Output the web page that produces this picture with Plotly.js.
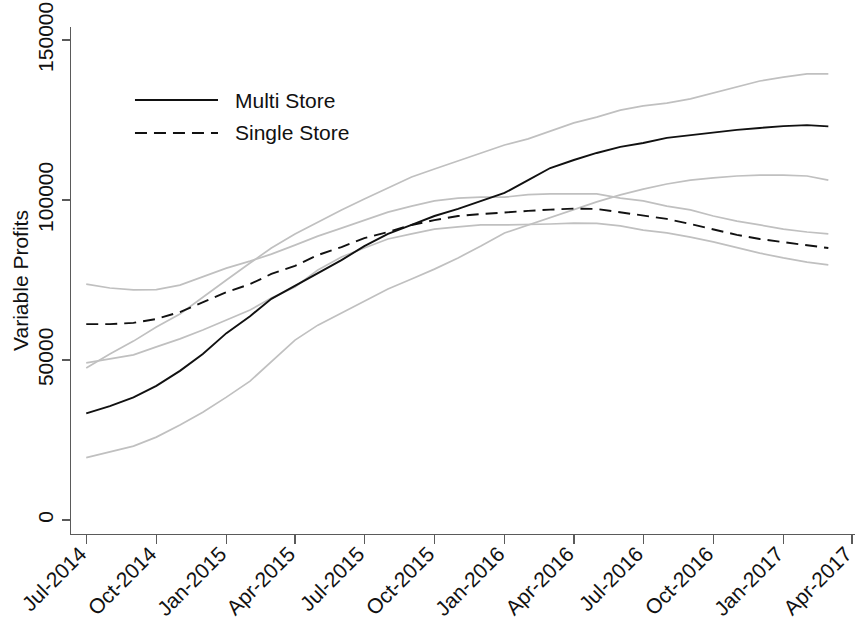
<!DOCTYPE html>
<html>
<head>
<meta charset="utf-8">
<script src="https://cdn.plot.ly/plotly-3.0.1.min.js"></script>
<style>
  html, body { margin: 0; padding: 0; background: #fff; }
  #chart { width: 856px; height: 620px; }
</style>
</head>
<body>
<div id="chart"></div>
<script>
// Monthly observations, Jul-2014 .. Mar-2017
const months = [
  "2014-07-01","2014-08-01","2014-09-01","2014-10-01","2014-11-01","2014-12-01",
  "2015-01-01","2015-02-01","2015-03-01","2015-04-01","2015-05-01","2015-06-01",
  "2015-07-01","2015-08-01","2015-09-01","2015-10-01","2015-11-01","2015-12-01",
  "2016-01-01","2016-02-01","2016-03-01","2016-04-01","2016-05-01","2016-06-01",
  "2016-07-01","2016-08-01","2016-09-01","2016-10-01","2016-11-01","2016-12-01",
  "2017-01-01","2017-02-01","2017-03-01"
];

// Multi Store: fitted variable profits and confidence band
const multiStore = [
  33300, 35600, 38300, 41900, 46600, 51900, 58400, 63700, 69100, 73100, 77200,
  81200, 85600, 89400, 92200, 95000, 97200, 99700, 102200, 106200, 110000,
  112500, 114700, 116600, 117800, 119400, 120300, 121200, 121900, 122500,
  123100, 123400, 123000
];
const multiUpper = [
  47500, 51900, 55900, 60300, 64400, 69700, 75000, 80300, 85000, 89400, 93100,
  96900, 100300, 103700, 107200, 109700, 112200, 114700, 117200, 119100, 121600,
  124100, 125900, 128100, 129400, 130300, 131600, 133400, 135300, 137200,
  138400, 139400, 139400
];
const multiLower = [
  19500, 21200, 23100, 25900, 29700, 33700, 38400, 43400, 49400, 56200, 60900,
  64700, 68400, 72200, 75300, 78400, 81900, 85600, 89700, 92200, 94700,
  97200, 99400, 101600, 103400, 105000, 106200, 106900, 107500, 107800,
  107800, 107500, 106200
];

// Single Store: fitted variable profits and confidence band
const singleStore = [
  61200, 61200, 61600, 62800, 65000, 68100, 71200, 73700, 76900, 79400, 82800,
  85300, 88100, 90000, 92200, 93700, 95000, 95600, 96200, 96600, 97000,
  97300, 97200, 96200, 95300, 94100, 92500, 90900, 89100, 87800,
  86900, 85900, 85000
];
const singleUpper = [
  73700, 72500, 71900, 72000, 73400, 75900, 78700, 80900, 83100, 85900, 88700,
  91200, 93700, 96200, 98100, 99700, 100600, 100900, 100900, 101700, 101900,
  102000, 101900, 100600, 99700, 98100, 96900, 95000, 93400, 92200,
  90900, 90000, 89400
];
const singleLower = [
  49100, 50300, 51600, 54100, 56600, 59400, 62500, 65600, 69400, 72800, 78100,
  82200, 85000, 87800, 89400, 90900, 91600, 92200, 92200, 92300, 92500,
  92800, 92700, 91900, 90600, 89700, 88400, 86900, 85000, 83400,
  81900, 80600, 79700
];

// Quarterly tick positions and their labels
const tickDates = [
  "2014-07-01","2014-10-01","2015-01-01","2015-04-01","2015-07-01","2015-10-01",
  "2016-01-01","2016-04-01","2016-07-01","2016-10-01","2017-01-01","2017-04-01"
];
const tickLabels = [
  "Jul-2014","Oct-2014","Jan-2015","Apr-2015","Jul-2015","Oct-2015",
  "Jan-2016","Apr-2016","Jul-2016","Oct-2016","Jan-2017","Apr-2017"
];
const yTicks = [0, 50000, 100000, 150000];
const yTickLabels = ["0", "50000", "100000", "150000"];

const legendNames = ["Multi Store", "Single Store"];

const FONT = "Liberation Sans, Arial, Helvetica, sans-serif";
const GRAY = "rgb(192,192,192)";
const AXIS = "rgb(90,90,90)";

function band(y) {
  return { x: months, y: y, type: "scatter", mode: "lines",
           line: { color: GRAY, width: 1.7 }, showlegend: false, hoverinfo: "skip" };
}

const traces = [
  band(multiUpper), band(multiLower), band(singleUpper), band(singleLower),
  { x: months, y: singleStore, type: "scatter", mode: "lines", name: legendNames[1],
    line: { color: "#111", width: 1.9, dash: "12px,7px" }, showlegend: false },
  { x: months, y: multiStore, type: "scatter", mode: "lines", name: legendNames[0],
    line: { color: "#111", width: 1.9 }, showlegend: false }
];

// Hand-placed legend keys (long line samples) in paper coordinates
const legendY = [0.856, 0.791];
const shapes = [
  { type: "line", xref: "paper", yref: "paper", x0: 0.0816, x1: 0.1875,
    y0: legendY[0], y1: legendY[0], line: { color: "#111", width: 1.9 } },
  { type: "line", xref: "paper", yref: "paper", x0: 0.0816, x1: 0.1875,
    y0: legendY[1], y1: legendY[1], line: { color: "#111", width: 1.9, dash: "12px,7px" } }
];
const annotations = legendNames.map((t, i) => ({
  xref: "paper", yref: "paper", x: 0.2066, y: legendY[i], text: t,
  showarrow: false, xanchor: "left", yanchor: "middle",
  font: { family: FONT, size: 21, color: "#111" }
}));

const layout = {
  width: 856, height: 620,
  margin: { l: 71, r: 1, t: 27, b: 86 },
  paper_bgcolor: "#fff", plot_bgcolor: "#fff",
  font: { family: FONT, size: 21, color: "#111" },
  xaxis: {
    type: "date",
    range: ["2014-06-11", "2017-04-05"],
    tickvals: tickDates, ticktext: tickLabels, tickangle: -45,
    ticks: "outside", ticklen: 9, tickwidth: 1.3, tickcolor: AXIS,
    ticklabelstandoff: -11, ticklabelshift: -6, ticklabeloverflow: "allow",
    showline: true, linecolor: AXIS, linewidth: 1.3,
    showgrid: false, zeroline: false,
    tickfont: { family: FONT, size: 21, color: "#111" }
  },
  yaxis: {
    range: [-4375, 154062],
    tickvals: yTicks, ticktext: yTickLabels, tickangle: -90,
    ticks: "outside", ticklen: 8, tickwidth: 1.3, tickcolor: AXIS,
    showline: true, linecolor: AXIS, linewidth: 1.3,
    showgrid: false, zeroline: false,
    tickfont: { family: FONT, size: 21, color: "#111" },
    title: { text: "Variable Profits", font: { family: FONT, size: 21, color: "#111" }, standoff: 0 }
  },
  shapes: shapes,
  annotations: annotations,
  showlegend: false
};

Plotly.newPlot("chart", traces, layout, { displayModeBar: false, staticPlot: true });
</script>
</body>
</html>
